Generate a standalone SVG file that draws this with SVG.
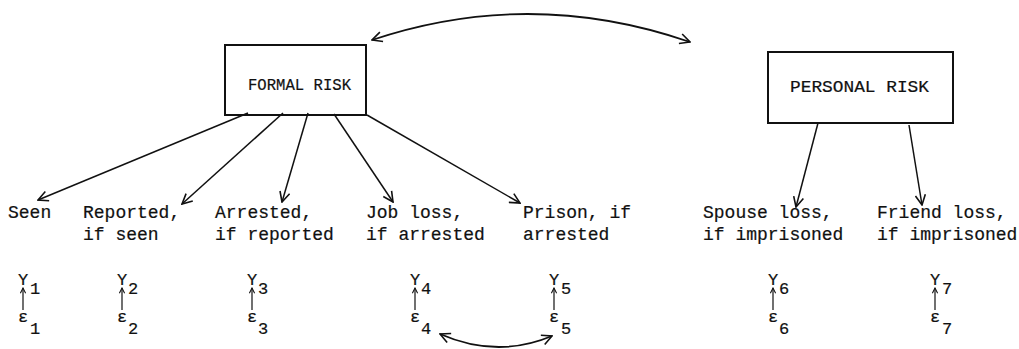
<svg xmlns="http://www.w3.org/2000/svg" width="1019" height="349" viewBox="0 0 1019 349">
  <style>
    .box { fill: #fff; stroke: #111; stroke-width: 2; }
    .title { font-family: "Liberation Mono", "DejaVu Sans Mono", monospace; font-size: 17px; fill: #111; stroke: #111; stroke-width: 0.2; }
    .lbl { font-family: "Liberation Mono", "DejaVu Sans Mono", monospace; font-size: 18px; fill: #111; stroke: #111; stroke-width: 0.2; }
    .sym { font-family: "Liberation Mono", "DejaVu Sans Mono", monospace; font-size: 17px; fill: #111; stroke: #111; stroke-width: 0.2; }
    .edge { fill: none; stroke: #111; stroke-width: 1.5; marker-end: url(#head); }
    .edge2 { fill: none; stroke: #111; stroke-width: 1.8; marker-start: url(#headStart); marker-end: url(#head); }
    .err { fill: none; stroke: #111; stroke-width: 1.2; marker-end: url(#smallHead); }
  </style>
  <defs>
    <marker id="head" viewBox="0 0 12 12" refX="11" refY="6" markerWidth="12" markerHeight="12" markerUnits="userSpaceOnUse" orient="auto">
      <path d="M1,1 L11,6 L1,11" fill="none" stroke="#111" stroke-width="1.6"/>
    </marker>
    <marker id="headStart" viewBox="0 0 12 12" refX="1" refY="6" markerWidth="12" markerHeight="12" markerUnits="userSpaceOnUse" orient="auto">
      <path d="M11,1 L1,6 L11,11" fill="none" stroke="#111" stroke-width="1.6"/>
    </marker>
    <marker id="smallHead" viewBox="0 0 8 8" refX="7" refY="4" markerWidth="7" markerHeight="7" markerUnits="userSpaceOnUse" orient="auto">
      <path d="M1,1 L7,4 L1,7" fill="none" stroke="#111" stroke-width="1.2"/>
    </marker>
  </defs>
  <rect width="1019" height="349" fill="#fff"/>

  <!-- latent constructs -->
  <g id="formal-risk">
    <rect class="box" x="225" y="45" width="141" height="70"/>
    <text class="title" x="248" y="90" textLength="103" lengthAdjust="spacingAndGlyphs">FORMAL RISK</text>
  </g>
  <g id="personal-risk">
    <rect class="box" x="768" y="52" width="185" height="71"/>
    <text class="title" x="790" y="92" textLength="139" lengthAdjust="spacingAndGlyphs">PERSONAL RISK</text>
  </g>

  <!-- observed indicators -->
  <g id="seen"><text class="lbl" x="8" y="218">Seen</text></g>
  <g id="reported"><text class="lbl" x="83" y="218">Reported,</text><text class="lbl" x="83" y="240">if seen</text></g>
  <g id="arrested"><text class="lbl" x="215" y="218">Arrested,</text><text class="lbl" x="215" y="240">if reported</text></g>
  <g id="job-loss"><text class="lbl" x="366" y="218">Job loss,</text><text class="lbl" x="366" y="240">if arrested</text></g>
  <g id="prison"><text class="lbl" x="523" y="218">Prison, if</text><text class="lbl" x="523" y="240">arrested</text></g>
  <g id="spouse-loss"><text class="lbl" x="703" y="218">Spouse loss,</text><text class="lbl" x="703" y="240">if imprisoned</text></g>
  <g id="friend-loss"><text class="lbl" x="877" y="218">Friend loss,</text><text class="lbl" x="877" y="240">if imprisoned</text></g>

  <!-- variables and their error terms -->
  <g id="y1"><text class="sym" x="18" y="285">Y</text><text class="sym" x="30" y="294">1</text><text class="sym" x="18" y="322">ε</text><text class="sym" x="30" y="334">1</text></g>
  <g id="y2"><text class="sym" x="117" y="285">Y</text><text class="sym" x="128" y="294">2</text><text class="sym" x="117" y="322">ε</text><text class="sym" x="128" y="334">2</text></g>
  <g id="y3"><text class="sym" x="247" y="285">Y</text><text class="sym" x="258" y="294">3</text><text class="sym" x="247" y="322">ε</text><text class="sym" x="258" y="334">3</text></g>
  <g id="y4"><text class="sym" x="410" y="285">Y</text><text class="sym" x="421" y="294">4</text><text class="sym" x="410" y="322">ε</text><text class="sym" x="421" y="334">4</text></g>
  <g id="y5"><text class="sym" x="549" y="285">Y</text><text class="sym" x="561" y="294">5</text><text class="sym" x="549" y="322">ε</text><text class="sym" x="561" y="334">5</text></g>
  <g id="y6"><text class="sym" x="768" y="285">Y</text><text class="sym" x="779" y="294">6</text><text class="sym" x="768" y="322">ε</text><text class="sym" x="779" y="334">6</text></g>
  <g id="y7"><text class="sym" x="930" y="285">Y</text><text class="sym" x="942" y="294">7</text><text class="sym" x="930" y="322">ε</text><text class="sym" x="942" y="334">7</text></g>

  <g id="connectors">
    <!-- covariance between constructs -->
    <path class="edge2" d="M372,40 Q530,-13 690,42"/>
    <!-- loadings of formal risk -->
    <path class="edge" d="M248,113 L38,200"/>
    <path class="edge" d="M283,113 L182,204"/>
    <path class="edge" d="M308,113 L282,202"/>
    <path class="edge" d="M334,114 L393,202"/>
    <path class="edge" d="M367,115 L520,203"/>
    <!-- loadings of personal risk -->
    <path class="edge" d="M818,123 L796,207"/>
    <path class="edge" d="M909,125 L922,205"/>
    <!-- error terms -->
    <path class="err" d="M23,310 L23,288"/>
    <path class="err" d="M122,310 L122,288"/>
    <path class="err" d="M252,310 L252,288"/>
    <path class="err" d="M415,310 L415,288"/>
    <path class="err" d="M554,310 L554,288"/>
    <path class="err" d="M773,310 L773,288"/>
    <path class="err" d="M935,310 L935,288"/>
    <!-- correlated errors -->
    <path class="edge2" d="M440,334 Q497,359 552,336"/>
  </g>
</svg>
